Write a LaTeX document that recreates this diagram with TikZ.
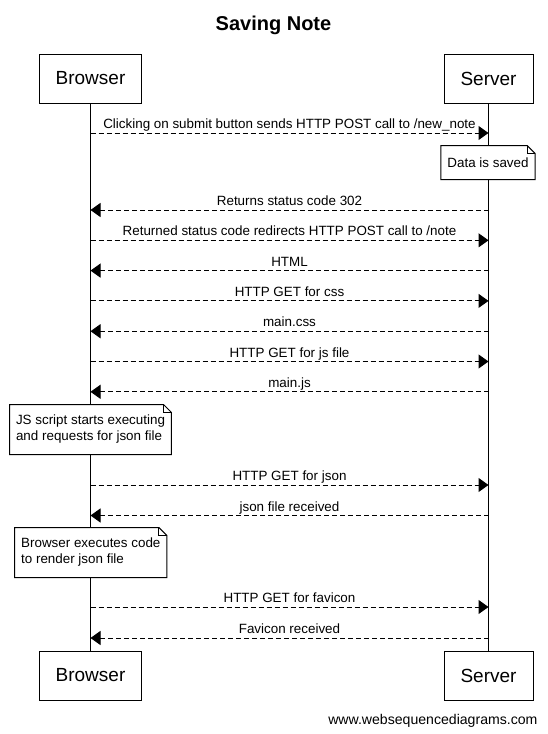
\documentclass[tikz,border=0pt]{standalone}
\usepackage{fontspec}
\setmainfont{Liberation Sans}
\usetikzlibrary{arrows.meta}
\newcommand\mynotefold[1]{%
  \draw (#1.north west) -- ([xshift=-8pt]#1.north east) -- ([yshift=-8pt]#1.north east) -- (#1.south east) -- (#1.south west) -- cycle;
  \draw ([xshift=-8pt]#1.north east) |- ([yshift=-8pt]#1.north east);}
\begin{document}
\begin{tikzpicture}[x=1pt,y=-1pt,line width=1pt,
  actor/.style={draw,fill=white,minimum width=#1,minimum height=49pt,inner sep=0pt,font=\fontsize{19}{22}\selectfont},
  msg/.style={dash pattern=on 5pt off 3pt,-{Triangle[length=10pt,width=14pt]}},
  lbl/.style={font=\fontsize{13.4}{16}\selectfont,inner sep=0pt,anchor=base},
  notebox/.style={fill=white,inner xsep=6pt,inner ysep=0pt,align=left,font=\fontsize{13.4}{16}\selectfont,minimum height=#1},
  ttl/.style={font=\fontsize{20}{24}\selectfont\bfseries,inner sep=0pt,anchor=base},
  credit/.style={font=\fontsize{14.1}{17}\selectfont,inner sep=0pt,anchor=base east}]
\fill[white] (0,0) rectangle (547,734);
\useasboundingbox (0,0) rectangle (547,734);
\node[ttl] (title) at (273.5,30) {Saving Note};
% actors
\node[actor=102pt] (bt) at (90.5,78.5) {Browser};
\node[actor=89pt] (st) at (488.5,78.5) {Server};
\node[actor=102pt] (bb) at (90.5,675.5) {Browser};
\node[actor=89pt] (sb) at (488.5,675.5) {Server};
% lifelines
\draw (bt.south) -- (bb.north);
\draw (st.south) -- (sb.north);
% lifeline points
\foreach \k/\y in {1/133,2/210,3/240.3,4/270.6,5/300.9,6/331.2,7/361.5,8/391.8,9/485,10/515.5,11/607,12/638}{
  \coordinate (b\k) at (90.5,\y);
  \coordinate (s\k) at (488.5,\y);
}
% messages
\draw[msg] (b1) -- (s1) node[lbl,midway,yshift=4.5pt] {Clicking on submit button sends HTTP POST call to /new\_note};
\node[notebox=33pt] (n1) at (488,162.5) {Data is saved};
\mynotefold{n1}
\draw[msg] (s2) -- (b2) node[lbl,midway,yshift=4.5pt] {Returns status code 302};
\draw[msg] (b3) -- (s3) node[lbl,midway,yshift=4.5pt] {Returned status code redirects HTTP POST call to /note};
\draw[msg] (s4) -- (b4) node[lbl,midway,yshift=4.5pt] {HTML};
\draw[msg] (b5) -- (s5) node[lbl,midway,yshift=4.5pt] {HTTP GET for css};
\draw[msg] (s6) -- (b6) node[lbl,midway,yshift=4.5pt] {main.css};
\draw[msg] (b7) -- (s7) node[lbl,midway,yshift=4.5pt] {HTTP GET for js file};
\draw[msg] (s8) -- (b8) node[lbl,midway,yshift=4.5pt] {main.js};
\node[notebox=49pt] (n2) at (90.5,429.5) {JS script starts executing\\and requests for json file};
\mynotefold{n2}
\draw[msg] (b9) -- (s9) node[lbl,midway,yshift=4.5pt] {HTTP GET for json};
\draw[msg] (s10) -- (b10) node[lbl,midway,yshift=4.5pt] {json file received};
\node[notebox=49pt] (n3) at (90.8,552.5) {Browser executes code\\to render json file};
\mynotefold{n3}
\draw[msg] (b11) -- (s11) node[lbl,midway,yshift=4.5pt] {HTTP GET for favicon};
\draw[msg] (s12) -- (b12) node[lbl,midway,yshift=4.5pt] {Favicon received};
\node[credit] (www) at (538,724) {www.websequencediagrams.com};
\end{tikzpicture}
\end{document}
